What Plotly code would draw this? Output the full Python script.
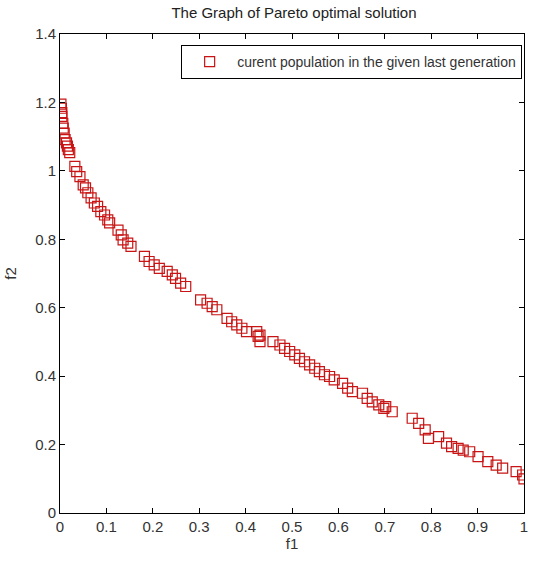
import plotly.graph_objects as go

# Pareto front: objective values of the final population
f1 = [0.002, 0.003, 0.004, 0.004, 0.006, 0.007, 0.009, 0.011, 0.014, 0.016,
      0.018, 0.021, 0.032, 0.036, 0.043, 0.050, 0.055, 0.060, 0.067, 0.074,
      0.081, 0.088, 0.096, 0.103, 0.107, 0.125, 0.132, 0.136, 0.146, 0.153,
      0.182, 0.192, 0.203, 0.214, 0.231, 0.242, 0.249, 0.260, 0.271, 0.303,
      0.317, 0.328, 0.338, 0.360, 0.370, 0.381, 0.392, 0.402, 0.424, 0.427,
      0.431, 0.431, 0.459, 0.474, 0.484, 0.495, 0.506, 0.516, 0.527, 0.538,
      0.549, 0.559, 0.570, 0.581, 0.591, 0.609, 0.620, 0.630, 0.652, 0.662,
      0.673, 0.687, 0.698, 0.702, 0.716, 0.759, 0.773, 0.787, 0.794, 0.816,
      0.833, 0.844, 0.858, 0.869, 0.883, 0.901, 0.922, 0.940, 0.954, 0.983,
      0.997, 1.000]
f2 = [1.195, 1.183, 1.170, 1.159, 1.139, 1.125, 1.110, 1.091, 1.082, 1.072,
      1.062, 1.053, 1.013, 0.998, 0.983, 0.959, 0.950, 0.936, 0.921, 0.906,
      0.896, 0.881, 0.871, 0.857, 0.848, 0.827, 0.813, 0.798, 0.789, 0.779,
      0.750, 0.735, 0.725, 0.715, 0.706, 0.696, 0.686, 0.672, 0.662, 0.623,
      0.613, 0.603, 0.594, 0.569, 0.559, 0.550, 0.540, 0.530, 0.530, 0.516,
      0.520, 0.501, 0.501, 0.491, 0.481, 0.472, 0.462, 0.452, 0.442, 0.433,
      0.423, 0.413, 0.404, 0.399, 0.389, 0.379, 0.365, 0.355, 0.350, 0.335,
      0.325, 0.316, 0.306, 0.311, 0.296, 0.277, 0.262, 0.243, 0.218, 0.223,
      0.204, 0.194, 0.189, 0.184, 0.179, 0.165, 0.150, 0.140, 0.131, 0.121,
      0.111, 0.100]

x_ticks = [0, 0.1, 0.2, 0.3, 0.4, 0.5, 0.6, 0.7, 0.8, 0.9, 1]
x_labels = ["0", "0.1", "0.2", "0.3", "0.4", "0.5", "0.6", "0.7", "0.8", "0.9", "1"]
y_ticks = [0, 0.2, 0.4, 0.6, 0.8, 1.0, 1.2, 1.4]
y_labels = ["0", "0.2", "0.4", "0.6", "0.8", "1", "1.2", "1.4"]

FONT = "Liberation Sans Narrow, Arial Narrow, Liberation Sans, sans-serif"

fig = go.Figure()
fig.add_trace(go.Scatter(
    x=f1, y=f2, mode="markers",
    name="curent population in the given last generation",
    marker=dict(symbol="square-open", size=10, color="rgb(200,20,20)",
                line=dict(width=1.2, color="rgb(200,20,20)")),
))

axis_common = dict(
    showline=True, linecolor="black", linewidth=1, mirror="allticks",
    ticks="inside", ticklen=5, tickcolor="black", showgrid=False,
    zeroline=False, tickfont=dict(family=FONT, size=15, color="#333"),
)

fig.update_layout(
    width=534, height=561,
    margin=dict(l=60, r=6, t=34, b=48),
    paper_bgcolor="white", plot_bgcolor="white",
    font=dict(family=FONT, size=14, color="#333"),
    title=dict(text="The Graph of Pareto optimal solution",
               x=(60 + 528) / 2 / 534, xanchor="center",
               y=1 - 13 / 561, yanchor="middle", yref="container",
               font=dict(family=FONT, size=15, color="#222")),
    xaxis=dict(range=[0, 1], tickvals=x_ticks, ticktext=x_labels,
               title=dict(text="f1", standoff=4,
                          font=dict(family=FONT, size=15, color="#333")),
               **axis_common),
    yaxis=dict(range=[0, 1.4], tickvals=y_ticks, ticktext=y_labels,
               title=dict(text="f2", standoff=14,
                          font=dict(family=FONT, size=15, color="#333")),
               **axis_common),
    showlegend=True,
    legend=dict(x=0.996, xanchor="right", y=0.977, yanchor="top",
                bgcolor="white", bordercolor="black", borderwidth=1,
                itemwidth=45,
                font=dict(family=FONT, size=14, color="#333")),
)

fig.write_html("out.html")
